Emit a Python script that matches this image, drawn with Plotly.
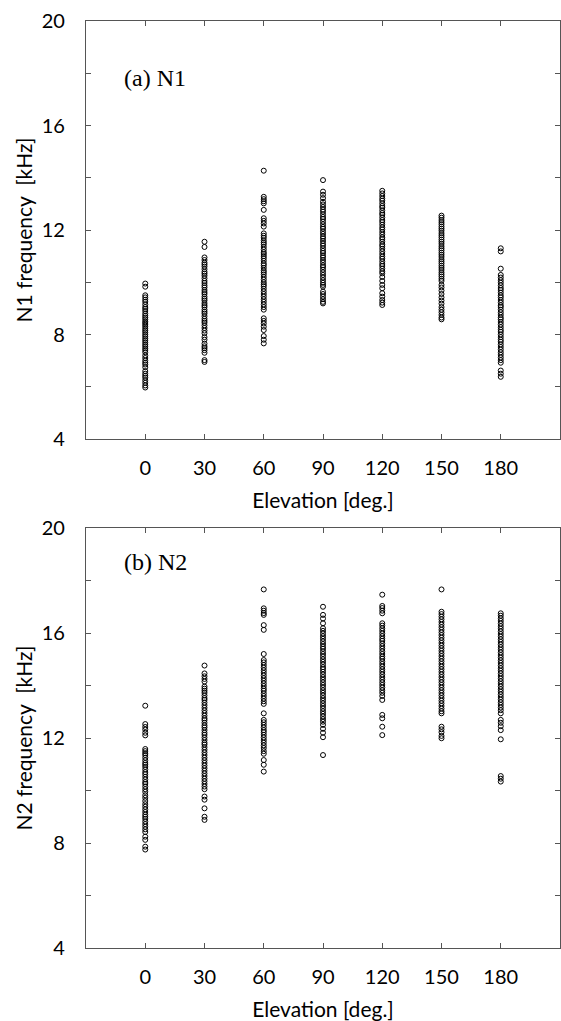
import plotly.graph_objects as go

# ---------------- data ----------------
elevations = [0, 30, 60, 90, 120, 150, 180]
x_tick_labels = ["0", "30", "60", "90", "120", "150", "180"]
y_tick_vals = [4, 6, 8, 10, 12, 14, 16, 18, 20]
y_tick_labels = ["4", "", "8", "", "12", "", "16", "", "20"]

# N1 frequency [kHz] per elevation
n1_0 = [9.95, 9.83, 9.50, 9.42, 9.33, 9.25, 9.15, 9.05, 8.98, 8.90, 8.80, 8.72, 8.65, 8.58,
        8.50, 8.44, 8.37, 8.30, 8.22, 8.15, 8.08, 8.00, 7.93, 7.85, 7.78, 7.70, 7.62, 7.55,
        7.47, 7.40, 7.32, 7.20, 7.10, 7.00, 6.92, 6.85, 6.75, 6.60, 6.50, 6.42, 6.35, 6.25,
        6.15, 6.05, 5.97]
n1_30 = [11.55, 11.35, 10.95, 10.85, 10.75, 10.68, 10.60, 10.50, 10.40, 10.33, 10.25, 10.15,
         10.05, 9.97, 9.88, 9.80, 9.70, 9.62, 9.55, 9.45, 9.37, 9.30, 9.20, 9.12, 9.05, 8.95,
         8.87, 8.80, 8.70, 8.60, 8.52, 8.45, 8.35, 8.25, 8.15, 8.05, 7.90, 7.80, 7.65, 7.55,
         7.48, 7.40, 7.30, 7.02, 6.95]
n1_60 = [14.27, 13.27, 13.18, 13.10, 13.02, 12.77, 12.45, 12.35, 12.25, 12.13, 11.87, 11.78,
         11.70, 11.60, 11.52, 11.45, 11.35, 11.25, 11.15, 11.08, 11.00, 10.92, 10.82, 10.72,
         10.65, 10.55, 10.45, 10.38, 10.30, 10.20, 10.10, 10.00, 9.92, 9.85, 9.75, 9.65, 9.55,
         9.45, 9.35, 9.25, 9.15, 9.05, 8.95, 8.62, 8.52, 8.42, 8.30, 8.17, 7.94, 7.80, 7.66]
n1_90 = [13.91, 13.47, 13.35, 13.22, 13.08, 12.98, 12.88, 12.78, 12.70, 12.60, 12.50, 12.42,
         12.32, 12.22, 12.12, 12.05, 11.95, 11.85, 11.75, 11.68, 11.58, 11.48, 11.40, 11.30,
         11.20, 11.12, 11.02, 10.95, 10.85, 10.75, 10.65, 10.58, 10.48, 10.38, 10.28, 10.18,
         10.08, 9.98, 9.90, 9.83, 9.64, 9.55, 9.45, 9.35, 9.25, 9.19]
n1_120 = [13.50, 13.40, 13.30, 13.20, 13.12, 13.02, 12.92, 12.85, 12.75, 12.65, 12.58, 12.48,
          12.38, 12.30, 12.20, 12.10, 12.02, 11.92, 11.82, 11.72, 11.65, 11.55, 11.45, 11.38,
          11.28, 11.18, 11.08, 10.98, 10.90, 10.80, 10.70, 10.62, 10.52, 10.42, 10.34, 10.20,
          10.05, 9.90, 9.77, 9.58, 9.45, 9.32, 9.22, 9.13]
n1_150 = [12.55, 12.47, 12.38, 12.30, 12.22, 12.13, 12.05, 11.97, 11.88, 11.80, 11.72, 11.63,
          11.55, 11.47, 11.38, 11.30, 11.22, 11.13, 11.05, 10.97, 10.88, 10.80, 10.72, 10.63,
          10.55, 10.47, 10.38, 10.30, 10.22, 10.13, 10.05, 9.90, 9.80, 9.68, 9.55, 9.42, 9.30,
          9.18, 9.05, 8.95, 8.85, 8.75, 8.65, 8.58]
n1_180 = [11.30, 11.18, 10.52, 10.28, 10.18, 10.08, 9.98, 9.88, 9.78, 9.70, 9.60, 9.50, 9.42,
          9.32, 9.22, 9.12, 9.05, 8.95, 8.85, 8.75, 8.65, 8.58, 8.48, 8.38, 8.28, 8.18, 8.10,
          8.00, 7.90, 7.80, 7.72, 7.62, 7.52, 7.42, 7.32, 7.22, 7.12, 7.02, 6.92, 6.62, 6.50,
          6.38]

# N2 frequency [kHz] per elevation
n2_0 = [13.23, 12.53, 12.42, 12.32, 12.20, 12.10, 11.58, 11.50, 11.42, 11.35, 11.25, 11.15,
        11.05, 10.98, 10.90, 10.80, 10.70, 10.62, 10.52, 10.42, 10.32, 10.25, 10.15, 10.05,
        9.95, 9.82, 9.72, 9.60, 9.48, 9.38, 9.28, 9.18, 9.08, 9.00, 8.92, 8.82, 8.72, 8.62,
        8.52, 8.42, 8.24, 8.12, 7.86, 7.75]
n2_30 = [14.76, 14.46, 14.35, 14.25, 14.15, 13.96, 13.88, 13.80, 13.72, 13.62, 13.52, 13.45,
         13.35, 13.25, 13.15, 13.05, 12.95, 12.85, 12.75, 12.68, 12.58, 12.48, 12.40, 12.30,
         12.20, 12.12, 12.02, 11.92, 11.82, 11.75, 11.65, 11.55, 11.45, 11.35, 11.25, 11.15,
         11.05, 10.95, 10.85, 10.75, 10.65, 10.55, 10.45, 10.35, 10.25, 10.15, 10.05, 9.77,
         9.65, 9.32, 9.00, 8.88]
n2_60 = [17.66, 16.94, 16.85, 16.76, 16.69, 16.30, 16.12, 15.20, 14.97, 14.88, 14.78, 14.68,
         14.58, 14.48, 14.38, 14.28, 14.18, 14.08, 13.98, 13.88, 13.80, 13.70, 13.60, 13.50,
         13.40, 13.30, 12.94, 12.69, 12.60, 12.50, 12.40, 12.30, 12.22, 12.12, 12.02, 11.92,
         11.82, 11.72, 11.62, 11.50, 11.40, 11.16, 10.98, 10.72]
n2_90 = [17.00, 16.69, 16.55, 16.37, 16.18, 16.08, 15.98, 15.88, 15.78, 15.68, 15.58, 15.48,
         15.40, 15.30, 15.20, 15.10, 15.00, 14.90, 14.80, 14.70, 14.62, 14.52, 14.42, 14.32,
         14.22, 14.12, 14.02, 13.92, 13.82, 13.72, 13.62, 13.52, 13.42, 13.32, 13.22, 13.12,
         13.02, 12.92, 12.82, 12.72, 12.62, 12.50, 12.35, 12.20, 12.03, 11.35]
n2_120 = [17.46, 17.03, 16.95, 16.85, 16.75, 16.37, 16.28, 16.18, 16.08, 15.98, 15.88, 15.78,
          15.70, 15.60, 15.50, 15.40, 15.30, 15.20, 15.10, 15.02, 14.92, 14.82, 14.72, 14.62,
          14.52, 14.42, 14.32, 14.22, 14.12, 14.02, 13.92, 13.82, 13.72, 13.60, 13.45, 12.88,
          12.75, 12.43, 12.11]
n2_150 = [17.66, 16.81, 16.72, 16.62, 16.52, 16.42, 16.32, 16.22, 16.12, 16.02, 15.92, 15.82,
          15.72, 15.62, 15.52, 15.42, 15.32, 15.22, 15.12, 15.02, 14.92, 14.82, 14.72, 14.62,
          14.52, 14.42, 14.32, 14.22, 14.12, 14.02, 13.92, 13.82, 13.72, 13.62, 13.52, 13.42,
          13.32, 13.22, 13.12, 13.02, 12.94, 12.43, 12.33, 12.22, 12.08, 11.99]
n2_180 = [16.75, 16.66, 16.56, 16.46, 16.36, 16.26, 16.16, 16.06, 15.96, 15.86, 15.76, 15.66,
          15.56, 15.46, 15.36, 15.26, 15.16, 15.06, 14.96, 14.86, 14.76, 14.66, 14.56, 14.46,
          14.36, 14.26, 14.16, 14.06, 13.96, 13.86, 13.76, 13.66, 13.56, 13.46, 13.36, 13.26,
          13.16, 13.06, 12.94, 12.69, 12.58, 12.45, 12.30, 11.95, 10.55, 10.45, 10.34]

n1_columns = [n1_0, n1_30, n1_60, n1_90, n1_120, n1_150, n1_180]
n2_columns = [n2_0, n2_30, n2_60, n2_90, n2_120, n2_150, n2_180]

# ---------------- figure ----------------
W, H = 561, 1021
fig = go.Figure()

marker = dict(symbol="circle-open", size=5, color="black", line=dict(width=1, color="black"))


def flat(cols):
    xs, ys = [], []
    for e, vals in zip(elevations, cols):
        xs += [e] * len(vals)
        ys += vals
    return xs, ys


x1, y1 = flat(n1_columns)
x2, y2 = flat(n2_columns)
fig.add_trace(go.Scatter(x=x1, y=y1, mode="markers", marker=marker, xaxis="x", yaxis="y",
                         showlegend=False))
fig.add_trace(go.Scatter(x=x2, y=y2, mode="markers", marker=marker, xaxis="x2", yaxis="y2",
                         showlegend=False))

tick_font = dict(family="Lato, 'Open Sans', sans-serif", size=20, color="black")
title_font = dict(family="Lato, 'Open Sans', sans-serif", size=21, color="black")
line_col = "#555555"


def xaxis(anchor):
    return dict(anchor=anchor, domain=[0, 1], range=[-30, 210], tickvals=elevations,
                ticktext=x_tick_labels, ticks="inside", ticklen=5, tickcolor=line_col,
                showline=True, linecolor=line_col, linewidth=1.3, mirror="ticks",
                showgrid=False, zeroline=False, tickfont=tick_font,
                ticklabelstandoff=11,
                title=dict(text="Elevation [deg.]", font=title_font, standoff=15),
                automargin=False)


def yaxis(anchor, dom, title):
    return dict(anchor=anchor, domain=dom, range=[4, 20], tickvals=y_tick_vals,
                ticktext=y_tick_labels, ticks="inside", ticklen=5, tickcolor=line_col,
                showline=True, linecolor=line_col, linewidth=1.3, mirror="ticks",
                showgrid=False, zeroline=False, tickfont=tick_font,
                ticklabelstandoff=16,
                title=dict(text=title, font=title_font, standoff=3),
                automargin=False)


top_dom = [1 - 439 / H, 1 - 21 / H]
bot_dom = [1 - 948 / H, 1 - 528 / H]

fig.update_layout(
    width=W, height=H,
    margin=dict(l=86, r=1, t=0, b=0),
    paper_bgcolor="white", plot_bgcolor="white",
    xaxis=xaxis("y"),
    yaxis=yaxis("x", top_dom, "N1 frequency\u00a0 [kHz]"),
    xaxis2=xaxis("y2"),
    yaxis2=yaxis("x2", bot_dom, "N2 frequency\u00a0 [kHz]"),
    annotations=[
        dict(text="(a) N1", xref="paper", yref="paper", x=36 / 474, y=1 - 78 / H,
             xanchor="left", yanchor="middle", showarrow=False,
             font=dict(family="'Liberation Serif', 'Times New Roman', serif", size=24,
                       color="black")),
        dict(text="(b) N2", xref="paper", yref="paper", x=36 / 474, y=1 - 562 / H,
             xanchor="left", yanchor="middle", showarrow=False,
             font=dict(family="'Liberation Serif', 'Times New Roman', serif", size=24,
                       color="black")),
    ],
)

fig.write_html("out.html")
